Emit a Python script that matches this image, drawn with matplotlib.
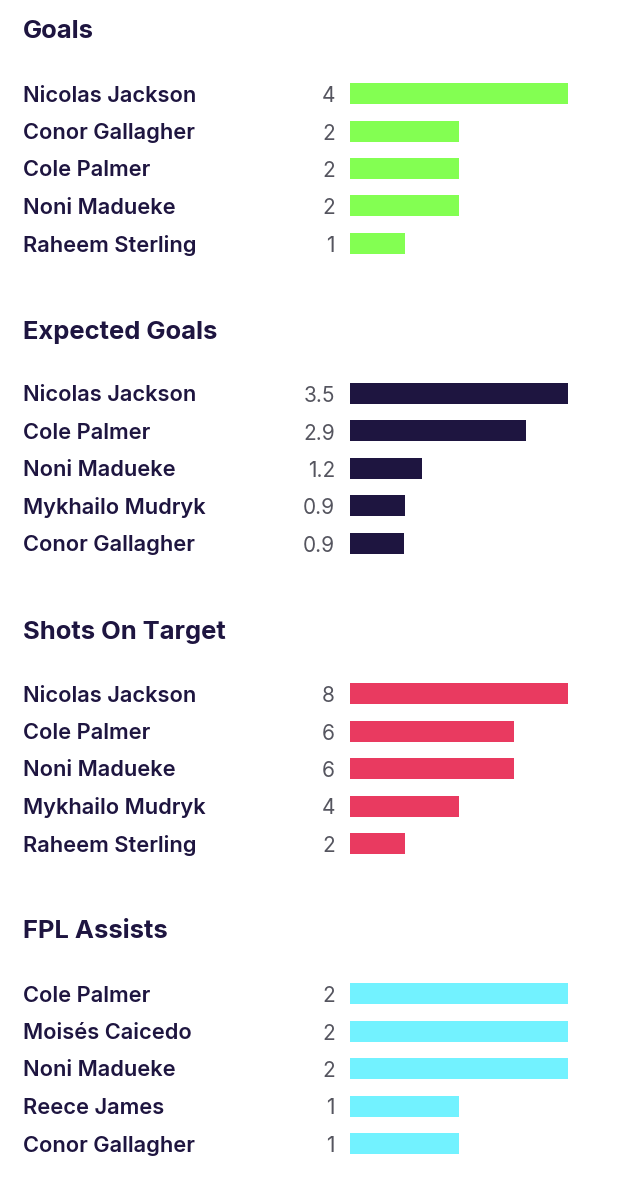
import matplotlib
matplotlib.use("Agg")
import matplotlib.pyplot as plt

################################################################
##### Data for each panel

TITLES = ["Goals", "Expected Goals", "Shots On Target", "FPL Assists"]
COLORS = ["#83FF52", "#1E1540", "#E93A60", "#72F2FF"]

goals_names = ["Nicolas Jackson", "Conor Gallagher", "Cole Palmer", "Noni Madueke", "Raheem Sterling"]
goals_values = [4, 2, 2, 2, 1]
goals_labels = ["4", "2", "2", "2", "1"]

xg_names = ["Nicolas Jackson", "Cole Palmer", "Noni Madueke", "Mykhailo Mudryk", "Conor Gallagher"]
xg_values = [3.5, 2.83, 1.16, 0.89, 0.87]
xg_labels = ["3.5", "2.9", "1.2", "0.9", "0.9"]

shots_names = ["Nicolas Jackson", "Cole Palmer", "Noni Madueke", "Mykhailo Mudryk", "Raheem Sterling"]
shots_values = [8, 6, 6, 4, 2]
shots_labels = ["8", "6", "6", "4", "2"]

assists_names = ["Cole Palmer", "Moisés Caicedo", "Noni Madueke", "Reece James", "Conor Gallagher"]
assists_values = [2, 2, 2, 1, 1]
assists_labels = ["2", "2", "2", "1", "1"]

NAMES = [goals_names, xg_names, shots_names, assists_names]
VALUES = [goals_values, xg_values, shots_values, assists_values]
LABELS = [goals_labels, xg_labels, shots_labels, assists_labels]

################################################################

W, H = 620, 1194
DARK = "#1E1540"
GREY = "#55555F"

plt.rcParams["font.family"] = ["Inter", "DejaVu Sans"]

fig = plt.figure(figsize=(W / 100, H / 100), dpi=100)
fig.patch.set_facecolor("white")


def to_fig(x, y):
    return x / W, 1 - y / H


for idx, title in enumerate(TITLES):
    top = 300 * idx
    # bars axes spans the five rows, row pitch is 37.5px
    left, bottom = to_fig(350, top + 93.5 + 37.5 * 4 + 18.75)
    ax = fig.add_axes([left, bottom, 218 / W, 187.5 / H])
    ax.barh(range(5), VALUES[idx], height=21 / 37.5, color=COLORS[idx])
    ax.set_xlim(0, max(VALUES[idx]))
    ax.set_ylim(4.5, -0.5)
    ax.axis("off")

    x, y = to_fig(23, top + 38.5)
    fig.text(x, y, title, fontsize=18.4, fontweight="bold", color=DARK, va="baseline", ha="left")

    for row in range(5):
        x, y = to_fig(23, top + 101.5 + 37.5 * row)
        fig.text(x, y, NAMES[idx][row], fontsize=15.7, fontweight="semibold", color=DARK,
                 va="baseline", ha="left")
        x, y = to_fig(335, top + 102 + 37.5 * row)
        fig.text(x, y, LABELS[idx][row], fontsize=15, color=GREY, va="baseline", ha="right")

fig.savefig("out.png", dpi=100, facecolor="white")
